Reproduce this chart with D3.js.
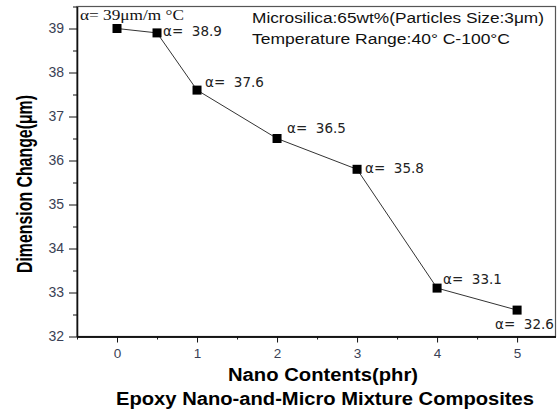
<!DOCTYPE html>
<html>
<head>
<meta charset="utf-8">
<script src="https://cdn.jsdelivr.net/npm/d3@7"></script>
<style>
  body { margin: 0; background: #fff; }
  svg { display: block; }
</style>
</head>
<body>
<script>
// Data
var nano = [0, 0.5, 1, 2, 3, 4, 5];
var change = [39, 38.9, 37.6, 36.5, 35.8, 33.1, 32.6];
var labels = ["", "\u03b1=  38.9", "\u03b1=  37.6", "\u03b1=  36.5", "\u03b1=  35.8", "\u03b1=  33.1", "\u03b1=  32.6"];
var xTicks = [0, 1, 2, 3, 4, 5];
var yTicks = [32, 33, 34, 35, 36, 37, 38, 39];

var width = 557;
var height = 412;

// label offsets from each point (dx, dy)
var offsets = [[0, 0], [6, 3], [8, -3], [10, -6], [8, 4], [6, -4], [-22, 19]];

var svg = d3.select("body")
  .append("svg")
  .attr("width", width)
  .attr("height", height);

var x = d3.scaleLinear().domain([-0.5, 5.48]).range([77, 555.5]);
var y = d3.scaleLinear().domain([32, 39.5]).range([336.5, 6.5]);

// frame
svg.append("rect")
  .attr("x", 77)
  .attr("y", 6.5)
  .attr("width", 478.5)
  .attr("height", 330)
  .attr("fill", "none")
  .attr("stroke", "#555")
  .attr("stroke-width", 1.2);

// axes
var xAxis = svg.append("g")
  .attr("transform", "translate(0,336.5)")
  .call(d3.axisBottom(x).tickValues(xTicks).tickFormat(d3.format("d")).tickSize(6).tickSizeOuter(0));
svg.append("g")
  .attr("transform", "translate(0,336.5)")
  .call(d3.axisBottom(x).tickValues([-0.5, 0.5, 1.5, 2.5, 3.5, 4.5]).tickFormat("").tickSize(3).tickSizeOuter(0));

var yAxis = svg.append("g")
  .attr("transform", "translate(77,0)")
  .call(d3.axisLeft(y).tickValues(yTicks).tickSize(8).tickSizeOuter(0));
svg.append("g")
  .attr("transform", "translate(77,0)")
  .call(d3.axisLeft(y).tickValues([32.5, 33.5, 34.5, 35.5, 36.5, 37.5, 38.5, 39.5]).tickFormat("").tickSize(4).tickSizeOuter(0));

svg.selectAll(".domain").attr("stroke", "#111").attr("stroke-width", 1.3);
svg.selectAll(".tick line").attr("stroke", "#111");
xAxis.selectAll("text")
  .attr("font-family", "Arial, 'Liberation Sans', sans-serif")
  .attr("font-size", 13.5)
  .attr("fill", "#3a3f55")
  .attr("y", 12)
  .attr("dy", "0.71em");
yAxis.selectAll("text")
  .attr("font-family", "Arial, 'Liberation Sans', sans-serif")
  .attr("font-size", 14)
  .attr("fill", "#3a3f55")
  .attr("x", -13);

// line
var line = d3.line()
  .x(function (d, i) { return x(nano[i]); })
  .y(function (d) { return y(d); });

svg.append("path")
  .datum(change)
  .attr("d", line)
  .attr("fill", "none")
  .attr("stroke", "#333")
  .attr("stroke-width", 1);

// markers
svg.selectAll("rect.pt")
  .data(change)
  .enter()
  .append("rect")
  .attr("class", "pt")
  .attr("x", function (d, i) { return x(nano[i]) - 4.5; })
  .attr("y", function (d) { return y(d) - 4.5; })
  .attr("width", 9)
  .attr("height", 9)
  .attr("fill", "#000");

// point labels
svg.selectAll("text.lbl")
  .data(change)
  .enter()
  .append("text")
  .attr("class", "lbl")
  .attr("x", function (d, i) { return x(nano[i]) + offsets[i][0]; })
  .attr("y", function (d, i) { return y(d) + offsets[i][1]; })
  .attr("font-family", "'DejaVu Sans', Verdana, sans-serif")
  .attr("font-size", 13.5)
  .attr("fill", "#222")
  .style("white-space", "pre")
  .text(function (d, i) { return labels[i]; });

svg.append("text")
  .attr("x", 80)
  .attr("y", 20)
  .attr("font-family", "'Liberation Serif', 'Times New Roman', serif")
  .attr("font-size", 15)
  .attr("fill", "#111")
  .attr("textLength", 104)
  .attr("lengthAdjust", "spacingAndGlyphs")
  .text("\u03b1= 39\u03bcm/m \u00b0C");

// info box text
svg.append("text")
  .attr("x", 252)
  .attr("y", 23)
  .attr("font-family", "Arial, 'Liberation Sans', sans-serif")
  .attr("font-size", 15.5)
  .attr("fill", "#111")
  .attr("textLength", 292)
  .attr("lengthAdjust", "spacingAndGlyphs")
  .text("Microsilica:65wt%(Particles Size:3\u03bcm)");
svg.append("text")
  .attr("x", 252)
  .attr("y", 44)
  .attr("font-family", "Arial, 'Liberation Sans', sans-serif")
  .attr("font-size", 15.5)
  .attr("fill", "#111")
  .attr("textLength", 258)
  .attr("lengthAdjust", "spacingAndGlyphs")
  .text("Temperature Range:40\u00b0 C-100\u00b0C");

// axis titles
svg.append("text")
  .attr("transform", "translate(32,184) rotate(-90) scale(1,1.25)")
  .attr("text-anchor", "middle")
  .attr("font-family", "Arial, 'Liberation Sans', sans-serif")
  .attr("font-weight", "bold")
  .attr("font-size", 18)
  .attr("fill", "#000")
  .attr("textLength", 178)
  .attr("lengthAdjust", "spacingAndGlyphs")
  .text("Dimension Change(\u03bcm)");

svg.append("text")
  .attr("x", 228)
  .attr("y", 381)
  .attr("font-family", "Arial, 'Liberation Sans', sans-serif")
  .attr("font-weight", "bold")
  .attr("font-size", 18)
  .attr("fill", "#000")
  .attr("textLength", 190)
  .attr("lengthAdjust", "spacingAndGlyphs")
  .text("Nano Contents(phr)");

svg.append("text")
  .attr("x", 116)
  .attr("y", 405)
  .attr("font-family", "Arial, 'Liberation Sans', sans-serif")
  .attr("font-weight", "bold")
  .attr("font-size", 18)
  .attr("fill", "#000")
  .attr("textLength", 418)
  .attr("lengthAdjust", "spacingAndGlyphs")
  .text("Epoxy Nano-and-Micro Mixture Composites");
</script>
</body>
</html>
